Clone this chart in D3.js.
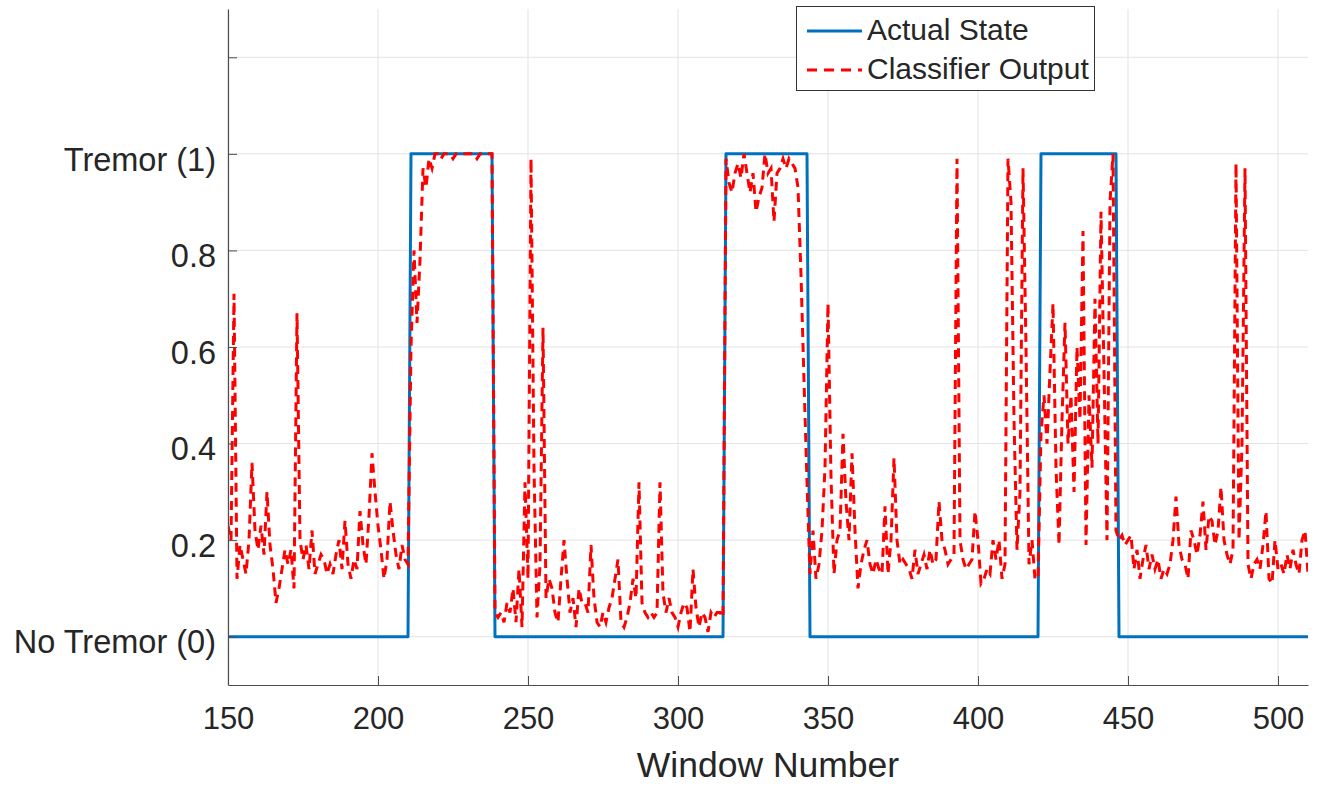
<!DOCTYPE html>
<html>
<head>
<meta charset="utf-8">
<script src="https://cdn.jsdelivr.net/npm/d3@7"></script>
<style>
  html, body { margin: 0; padding: 0; background: #fff; }
  svg { display: block; font-family: "Liberation Sans", Arial, Helvetica, sans-serif; }
</style>
</head>
<body>
<svg id="chart" width="1323" height="786"></svg>
<script>
// ---- data ----
const startWindow = 150;
const classifierOutput = [
  0.23, 0.20, 0.71, 0.12, 0.19, 0.16, 0.13, 0.20, 0.36, 0.22,
  0.18, 0.23, 0.17, 0.30, 0.19, 0.14, 0.07, 0.10, 0.14, 0.18,
  0.15, 0.18, 0.10, 0.67, 0.20, 0.16, 0.19, 0.14, 0.22, 0.13,
  0.15, 0.17, 0.16, 0.13, 0.15, 0.13, 0.17, 0.20, 0.14, 0.24,
  0.15, 0.12, 0.16, 0.14, 0.26, 0.19, 0.15, 0.25, 0.38, 0.30,
  0.23, 0.18, 0.12, 0.16, 0.28, 0.22, 0.17, 0.14, 0.19, 0.16,
  0.15, 0.60, 0.80, 0.65, 0.78, 0.97, 0.93, 0.99, 0.97, 1.00,
  1.00, 0.99, 1.00, 1.00, 1.00, 0.99, 1.00, 1.00, 1.00, 1.00,
  1.00, 1.00, 1.00, 0.99, 1.00, 1.00, 1.00, 1.00, 1.00, 0.05,
  0.04, 0.05, 0.03, 0.07, 0.05, 0.10, 0.03, 0.14, 0.02, 0.32,
  0.12, 0.99, 0.35, 0.04, 0.15, 0.64, 0.08, 0.12, 0.10, 0.05,
  0.03, 0.12, 0.20, 0.12, 0.05, 0.08, 0.02, 0.10, 0.07, 0.07,
  0.05, 0.19, 0.08, 0.03, 0.02, 0.05, 0.03, 0.06, 0.08, 0.12,
  0.16, 0.03, 0.02, 0.04, 0.07, 0.12, 0.08, 0.32, 0.07, 0.05,
  0.04, 0.05, 0.04, 0.05, 0.32, 0.09, 0.05, 0.08, 0.05, 0.04,
  0.02, 0.05, 0.07, 0.06, 0.01, 0.14, 0.06, 0.02, 0.05, 0.04,
  0.01, 0.05, 0.04, 0.05, 0.05, 0.04, 0.99, 0.94, 0.92, 0.96,
  0.98, 0.95, 1.00, 0.96, 0.92, 0.96, 0.88, 0.91, 0.93, 1.00,
  0.96, 0.97, 0.86, 0.96, 0.97, 0.99, 0.97, 0.99, 0.98, 0.97,
  0.93, 0.75, 0.53, 0.32, 0.13, 0.22, 0.12, 0.15, 0.22, 0.35,
  0.69, 0.33, 0.13, 0.20, 0.22, 0.42, 0.28, 0.20, 0.38, 0.22,
  0.10, 0.15, 0.18, 0.20, 0.15, 0.13, 0.16, 0.14, 0.13, 0.27,
  0.13, 0.20, 0.37, 0.20, 0.15, 0.16, 0.15, 0.14, 0.12, 0.18,
  0.13, 0.15, 0.17, 0.14, 0.18, 0.15, 0.16, 0.28, 0.20, 0.18,
  0.15, 0.16, 0.17, 0.99, 0.20, 0.16, 0.14, 0.15, 0.16, 0.26,
  0.20, 0.11, 0.12, 0.14, 0.13, 0.20, 0.16, 0.20, 0.12, 0.15,
  0.99, 0.90, 0.45, 0.18, 0.30, 0.97, 0.60, 0.15, 0.20, 0.12,
  0.12, 0.42, 0.50, 0.40, 0.55, 0.69, 0.35, 0.19, 0.45, 0.65,
  0.40, 0.50, 0.30, 0.60, 0.45, 0.84, 0.19, 0.50, 0.35, 0.70,
  0.40, 0.88, 0.55, 0.20, 0.90, 1.00, 0.22, 0.20, 0.21, 0.19,
  0.20, 0.21, 0.14, 0.18, 0.12, 0.16, 0.19, 0.14, 0.17, 0.14,
  0.16, 0.12, 0.14, 0.13, 0.15, 0.20, 0.29, 0.19, 0.16, 0.15,
  0.12, 0.22, 0.20, 0.17, 0.21, 0.28, 0.18, 0.25, 0.24, 0.19,
  0.22, 0.31, 0.20, 0.17, 0.15, 0.18, 0.98, 0.20, 0.40, 0.97,
  0.15, 0.12, 0.15, 0.16, 0.14, 0.19, 0.26, 0.12, 0.11, 0.20,
  0.14, 0.15, 0.13, 0.17, 0.14, 0.18, 0.15, 0.13, 0.20, 0.22,
  0.13
];
// Actual state: breakpoints (window, state)
const actualWindows = [150, 210, 211, 238, 239, 315, 316, 343, 344, 420, 421, 446, 447, 510];
const actualStates  = [0,   0,   1,   1,   0,   0,   1,   1,   0,   0,   1,   1,   0,   0];

const xTicks = [150, 200, 250, 300, 350, 400, 450, 500];
const yTicks = [0, 0.2, 0.4, 0.6, 0.8, 1, 1.2];
const yTickLabels = ["No Tremor (0)", "0.2", "0.4", "0.6", "0.8", "Tremor (1)", ""];
const seriesNames = ["Actual State", "Classifier Output"];
const xTitle = "Window Number";

// ---- layout ----
const L = 228, R = 1308, T = 9, B = 685;
const textColor = "#262626";
const axisColor = "#4d4d4d";
const gridColor = "#e3e3e3";
const blue = "#0072BD";
const red = "#FF0000";

const svg = d3.select("#chart");
const x = d3.scaleLinear().domain([150, 510]).range([L, R]);
const y = d3.scaleLinear().domain([-0.1, 1.3]).range([B, T]);

// grid
const grid = svg.append("g");
grid.selectAll("line.gx").data(xTicks).join("line")
  .attr("x1", d => x(d)).attr("x2", d => x(d))
  .attr("y1", T).attr("y2", B)
  .attr("stroke", gridColor).attr("stroke-width", 1);
grid.selectAll("line.gy").data(yTicks).join("line")
  .attr("x1", L).attr("x2", R)
  .attr("y1", d => y(d)).attr("y2", d => y(d))
  .attr("stroke", gridColor).attr("stroke-width", 1);

// data lines
const plot = svg.append("g");
const clipId = "plotclip";
svg.append("clipPath").attr("id", clipId).append("rect")
  .attr("x", L).attr("y", T).attr("width", R - L).attr("height", B - T);
plot.attr("clip-path", `url(#${clipId})`);

const actualData = actualWindows.map((w, i) => [w, actualStates[i]]);
const classData = classifierOutput.map((v, i) => [startWindow + i, v]);
const line = d3.line().x(d => x(d[0])).y(d => y(d[1]));

plot.append("path").datum(actualData)
  .attr("d", line).attr("fill", "none")
  .attr("stroke", blue).attr("stroke-width", 3)
  .attr("stroke-linejoin", "round");

plot.append("path").datum(classData)
  .attr("d", line).attr("fill", "none")
  .attr("stroke", red).attr("stroke-width", 3)
  .attr("stroke-dasharray", "9,6")
  .attr("stroke-linejoin", "miter");

// axes
const xAxis = d3.axisBottom(x).tickValues(xTicks).tickSizeInner(-9).tickSizeOuter(0).tickPadding(22)
  .tickFormat(d3.format("d"));
const gx = svg.append("g").attr("transform", `translate(0,${B})`).call(xAxis);
gx.select(".domain").attr("stroke", axisColor).attr("stroke-width", 1.2);
gx.selectAll(".tick line").attr("stroke", axisColor);
gx.selectAll(".tick text").attr("fill", textColor).attr("font-size", 31)
  .attr("font-family", "Liberation Sans, Arial, sans-serif");

const yAxis = d3.axisLeft(y).tickValues(yTicks).tickSizeInner(-9).tickSizeOuter(0).tickPadding(12)
  .tickFormat((d, i) => yTickLabels[i]);
const gy = svg.append("g").attr("transform", `translate(${L},0)`).call(yAxis);
gy.select(".domain").attr("stroke", axisColor).attr("stroke-width", 1.2);
gy.selectAll(".tick line").attr("stroke", axisColor);
gy.selectAll(".tick text").attr("fill", textColor).attr("font-size", 32.5)
  .attr("dy", "0.5em")
  .attr("font-family", "Liberation Sans, Arial, sans-serif");

// x title
svg.append("text")
  .attr("x", (L + R) / 2).attr("y", 777)
  .attr("text-anchor", "middle")
  .attr("fill", textColor).attr("font-size", 35.5)
  .text(xTitle);

// legend
const lg = svg.append("g");
lg.append("rect").attr("x", 796.5).attr("y", 6.5).attr("width", 298).attr("height", 84)
  .attr("fill", "#fff").attr("stroke", "#333").attr("stroke-width", 1);
const legendItems = [
  { name: seriesNames[0], color: blue, dash: null, y: 31 },
  { name: seriesNames[1], color: red, dash: "10,7", y: 70 }
];
legendItems.forEach(it => {
  lg.append("line").attr("x1", 807).attr("x2", 862).attr("y1", it.y).attr("y2", it.y)
    .attr("stroke", it.color).attr("stroke-width", 3)
    .attr("stroke-dasharray", it.dash);
  lg.append("text").attr("x", 867).attr("y", it.y + 9)
    .attr("fill", textColor).attr("font-size", 30).text(it.name);
});
</script>
</body>
</html>
